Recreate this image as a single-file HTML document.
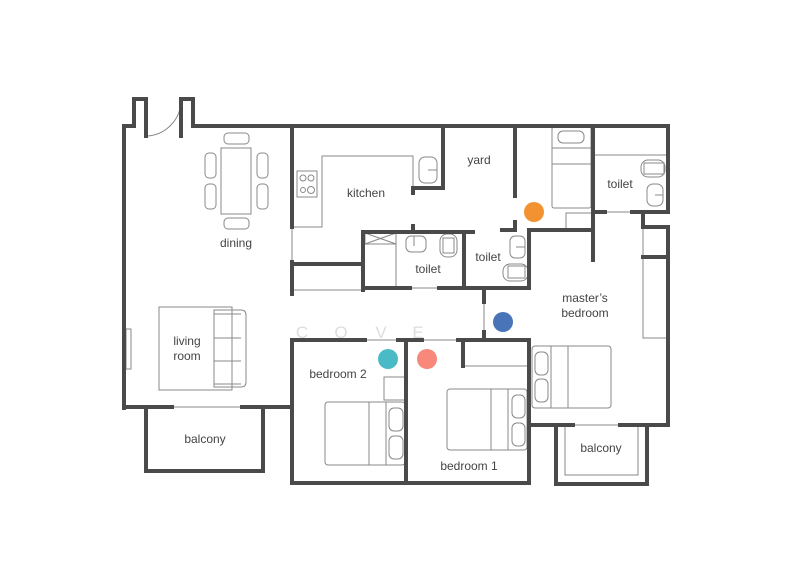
<!DOCTYPE html>
<html><head><meta charset="utf-8"><style>
html,body{margin:0;padding:0;background:#fff;}
svg{display:block}
text{font-family:"Liberation Sans",sans-serif;font-size:12px;fill:#444;text-anchor:middle}
</style></head><body>
<svg width="800" height="582" viewBox="0 0 800 582" xmlns="http://www.w3.org/2000/svg">
<rect width="800" height="582" fill="#fff"/>
<g fill="none" stroke="#888" stroke-width="1">
<!-- door arc -->
<path d="M147 136 A36 36 0 0 0 181 100"/>
<!-- dining -->
<rect x="221" y="148" width="30" height="66"/>
<rect x="224" y="133" width="25" height="11" rx="4"/>
<rect x="224" y="218" width="25" height="11" rx="4"/>
<rect x="205" y="153" width="11" height="25" rx="4"/>
<rect x="205" y="184" width="11" height="25" rx="4"/>
<rect x="257" y="153" width="11" height="25" rx="4"/>
<rect x="257" y="184" width="11" height="25" rx="4"/>
<!-- kitchen counter -->
<polyline points="292,227 322,227 322,156 413,156 413,188"/>
<rect x="297" y="171" width="20" height="26"/>
<circle cx="303" cy="178" r="3"/><circle cx="311" cy="178" r="3"/>
<circle cx="303" cy="190" r="2.5"/><circle cx="311" cy="190" r="3.5"/>
<rect x="419" y="157" width="18" height="26" rx="6"/><line x1="428" y1="170" x2="437" y2="170"/>
<line x1="292" y1="227" x2="292" y2="262"/>
<line x1="292" y1="290" x2="363" y2="290"/>
<!-- left toilet -->
<rect x="365" y="233" width="31" height="11"/>
<path d="M365 233 L396 244 M396 233 L365 244"/>
<line x1="396" y1="244" x2="396" y2="290"/>
<rect x="406" y="236" width="20" height="16" rx="5"/><line x1="414" y1="236" x2="414" y2="246"/>
<rect x="440" y="234" width="17" height="23" rx="7"/><rect x="443" y="238" width="11" height="15"/>
<line x1="410" y1="288" x2="439" y2="288"/>
<!-- middle toilet -->
<rect x="510" y="236" width="15" height="22" rx="5"/><line x1="516" y1="247" x2="525" y2="247"/>
<rect x="503" y="264" width="25" height="17" rx="7"/><rect x="508" y="266" width="17" height="12"/>
<!-- master top bed -->
<rect x="552" y="127" width="39" height="81" rx="2"/>
<line x1="552" y1="148" x2="591" y2="148"/><line x1="552" y1="164" x2="591" y2="164"/>
<rect x="558" y="131" width="26" height="12" rx="5"/>
<rect x="566" y="213" width="27" height="17"/>
<!-- master toilet -->
<line x1="593" y1="155" x2="667" y2="155"/>
<rect x="641" y="160" width="24" height="17" rx="7"/><rect x="644" y="163" width="20" height="11"/>
<rect x="647" y="184" width="16" height="22" rx="6"/><line x1="655" y1="195" x2="663" y2="195"/>
<line x1="605" y1="212" x2="632" y2="212"/>
<!-- wardrobe master -->
<rect x="643" y="227" width="24" height="111"/>
<!-- living -->
<rect x="126" y="329" width="5" height="40"/>
<rect x="159" y="307" width="73" height="83"/>
<path d="M214 310 L241 310 Q246 310 246 315 L246 382 Q246 387 241 387 L214 387 Z"/>
<line x1="214" y1="314" x2="241" y2="314"/><line x1="214" y1="338" x2="241" y2="338"/><line x1="214" y1="361" x2="241" y2="361"/><line x1="214" y1="384" x2="241" y2="384"/>
<line x1="172" y1="407" x2="242" y2="407"/>
<!-- corridor thin -->
<line x1="365" y1="340" x2="398" y2="340"/>
<line x1="422" y1="340" x2="458" y2="340"/>
<line x1="484" y1="302" x2="484" y2="332"/>
<line x1="463" y1="366" x2="529" y2="366"/>
<!-- bedroom2 -->
<rect x="384" y="377" width="22" height="23"/>
<rect x="325" y="402" width="80" height="63" rx="3"/>
<line x1="369" y1="402" x2="369" y2="465"/><line x1="386" y1="402" x2="386" y2="465"/>
<rect x="389" y="408" width="14" height="23" rx="5"/><rect x="389" y="436" width="14" height="23" rx="5"/>
<!-- bedroom1 -->
<rect x="447" y="389" width="80" height="61" rx="3"/>
<line x1="491" y1="389" x2="491" y2="450"/><line x1="508" y1="389" x2="508" y2="450"/>
<rect x="512" y="395" width="13" height="23" rx="5"/><rect x="512" y="423" width="13" height="23" rx="5"/>
<!-- master bed -->
<rect x="532" y="346" width="79" height="62" rx="3"/>
<line x1="551" y1="346" x2="551" y2="408"/><line x1="568" y1="346" x2="568" y2="408"/>
<rect x="535" y="352" width="13" height="23" rx="5"/><rect x="535" y="379" width="13" height="23" rx="5"/>
<!-- master balcony -->
<line x1="573" y1="425" x2="620" y2="425"/>
<polyline points="565,425 565,475 638,475 638,425"/>
</g>
<g fill="none" stroke="#4a4a4a" stroke-width="4" stroke-linecap="square">
<polyline points="124,408 124,126 134,126 134,99 146,99 146,136"/>
<polyline points="181,136 181,99 193,99 193,126 668,126 668,212 643,212 643,227 668,227 668,425 620,425"/>
<polyline points="573,425 530,425"/>
<polyline points="292,126 292,227"/>
<polyline points="292,262 292,294"/>
<polyline points="292,264 363,264"/>
<polyline points="413,193 413,188 443,188 443,126"/>
<polyline points="515,126 515,196"/>
<polyline points="363,290 363,232 473,232"/>
<polyline points="413,226 413,232"/>
<polyline points="363,288 410,288"/>
<polyline points="464,232 464,288"/>
<polyline points="439,288 529,288 529,230 593,230"/>
<polyline points="502,230 515,230 515,222"/>
<polyline points="593,126 593,260"/>
<polyline points="593,212 605,212"/>
<polyline points="632,212 668,212"/>
<polyline points="643,257 668,257"/>
<polyline points="484,290 484,302"/>
<polyline points="484,332 484,340"/>
<polyline points="124,407 172,407"/>
<polyline points="242,407 292,407"/>
<polyline points="146,407 146,471 263,471 263,407"/>
<polyline points="365,340 292,340 292,483 529,483 529,340 458,340"/>
<polyline points="398,340 422,340"/>
<polyline points="406,340 406,483"/>
<polyline points="463,340 463,366"/>
<polyline points="556,425 556,484 647,484 647,425"/>
</g>
<g font-family="Liberation Sans" fill="#ddd" style="font-size:17px">
<text x="302" y="338" style="fill:#ddd;font-size:17px">C</text>
<text x="341" y="338" style="fill:#ddd;font-size:17px">O</text>
<text x="381" y="338" style="fill:#ddd;font-size:17px">V</text>
<text x="418" y="338" style="fill:#ddd;font-size:17px">E</text>
</g>
<circle cx="534" cy="212" r="10" fill="#f39231"/>
<circle cx="503" cy="322" r="10" fill="#4a74b8"/>
<circle cx="388" cy="359" r="10" fill="#4bbac7"/>
<circle cx="427" cy="359" r="10" fill="#f7887a"/>
<text x="236" y="247">dining</text>
<text x="366" y="197">kitchen</text>
<text x="479" y="164">yard</text>
<text x="620" y="188">toilet</text>
<text x="428" y="273">toilet</text>
<text x="488" y="261">toilet</text>
<text x="585" y="302">master’s</text>
<text x="585" y="317">bedroom</text>
<text x="187" y="345">living</text>
<text x="187" y="360">room</text>
<text x="338" y="378">bedroom 2</text>
<text x="469" y="470">bedroom 1</text>
<text x="205" y="443">balcony</text>
<text x="601" y="452">balcony</text>
</svg>
</body></html>
